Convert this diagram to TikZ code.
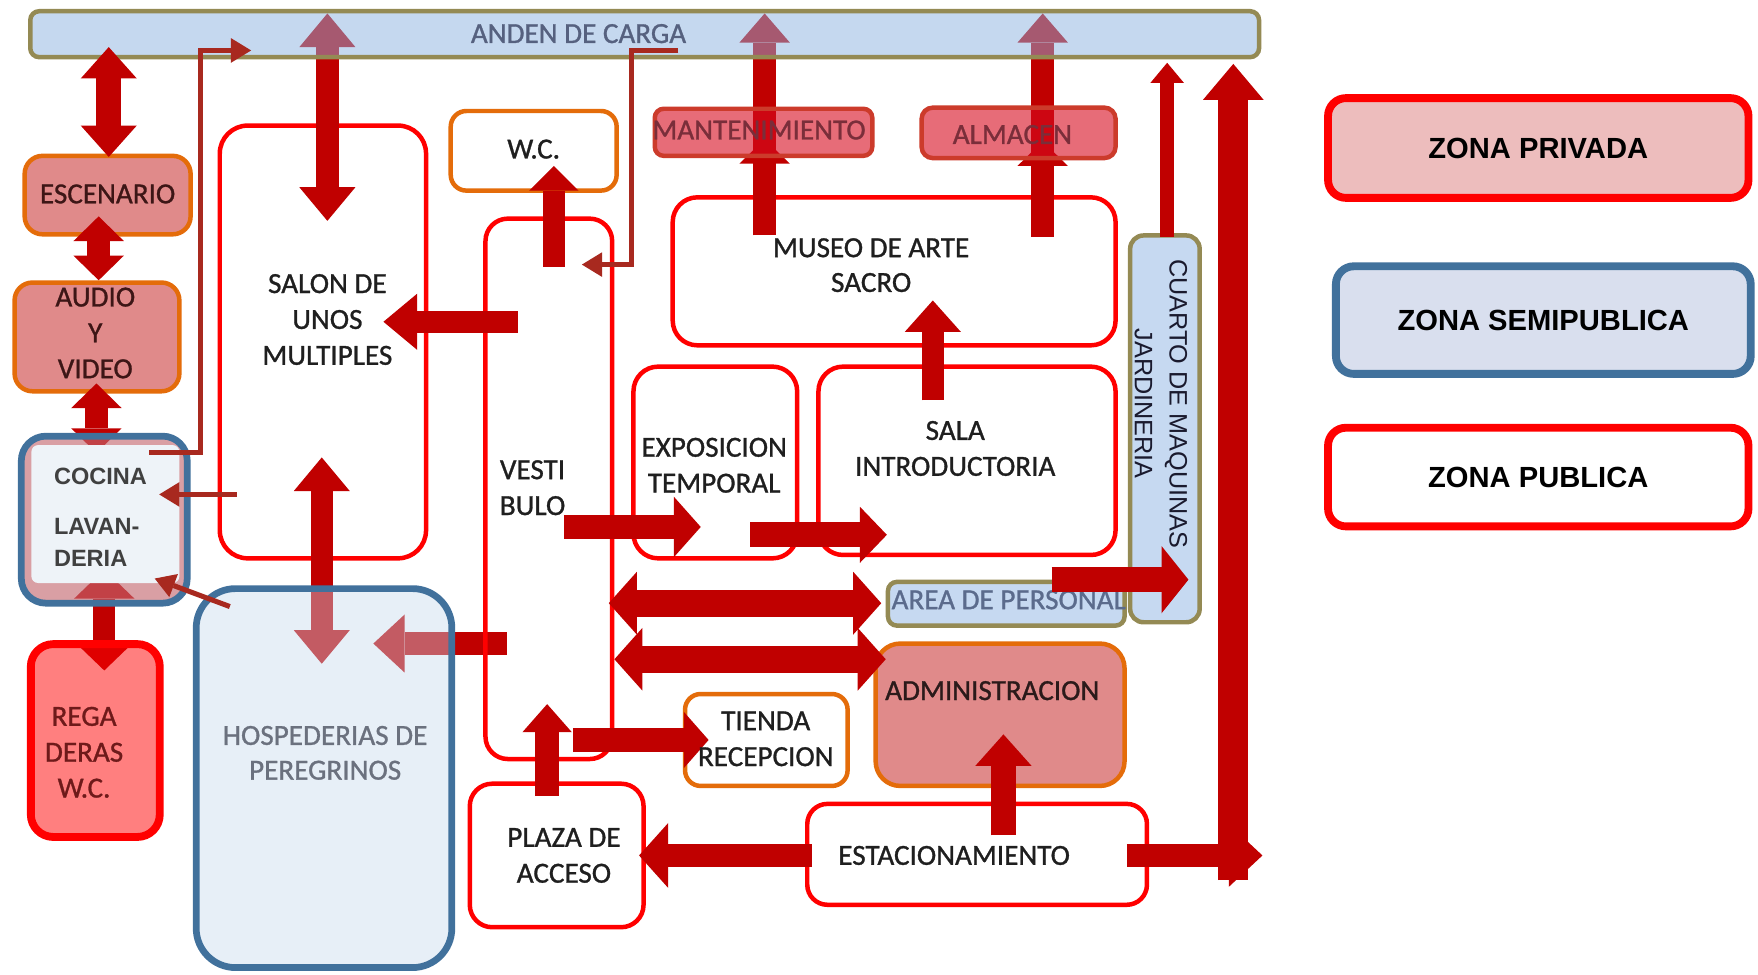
\documentclass[tikz,border=0pt]{standalone}
\usepackage{fontspec}
\setmainfont{Carlito}
\newfontfamily\roomfont{Carlito}[FakeBold=1]
\newfontfamily\arialfont{Liberation Sans}
\usetikzlibrary{arrows.meta}

\definecolor{flowred}{HTML}{C00000}
\definecolor{feedred}{HTML}{A8291F}
\definecolor{zonered}{HTML}{FF0000}
\definecolor{zoneorange}{HTML}{E46C0A}
\definecolor{zoneblue}{HTML}{41719C}
\definecolor{zoneolive}{HTML}{948A54}
\definecolor{servblue}{HTML}{C6D9F1}
\definecolor{andenblue}{HTML}{8DB3E1}
\definecolor{salmon}{HTML}{E08A8A}
\definecolor{mantfill}{HTML}{D70A1E}
\definecolor{mantline}{HTML}{CC3B2B}
\definecolor{cocinapink}{HTML}{C46870}
\definecolor{cocinalight}{HTML}{EEF3F8}
\definecolor{hospblue}{HTML}{C8D9EC}
\definecolor{privfill}{HTML}{EDBDBD}
\definecolor{semifill}{HTML}{D9DFEE}
\definecolor{txtdark}{HTML}{1F1F1F}
\definecolor{andentxt}{HTML}{56617F}
\definecolor{esctxt}{HTML}{3D1616}
\definecolor{regtxt}{HTML}{6E1A1A}
\definecolor{cocinatxt}{HTML}{404040}
\definecolor{hosptxt}{HTML}{6B717E}
\definecolor{manttxt}{HTML}{7A2E3A}
\definecolor{areatxt}{HTML}{5B6B8C}
\definecolor{cuartotxt}{HTML}{1A1A2E}
\definecolor{admintxt}{HTML}{2B1A1A}

\tikzset{
  pub/.style={draw=zonered, line width=4pt, rounded corners=22pt, inner sep=0pt},
  wet/.style={draw=zoneorange, line width=4pt, fill=white, rounded corners=14pt, inner sep=0pt},
  serv/.style={draw=zoneolive, line width=4pt, fill=servblue, rounded corners=8pt, inner sep=0pt},
  priv/.style={draw=mantline, line width=4pt, fill=mantfill, fill opacity=0.6, rounded corners=8pt, inner sep=0pt},
  semi/.style={draw=zoneblue, line width=6pt, rounded corners=22pt, inner sep=0pt},
  keybox/.style={line width=7pt, rounded corners=16pt, minimum width=375pt, minimum height=89pt,
    inner sep=0pt, text=black, font=\arialfont\bfseries\fontsize{26}{30}\selectfont},
  lbl/.style={font=\roomfont\fontsize{26}{32}\selectfont, align=center, inner sep=0pt, text=txtdark},
  flow/.style n args={3}{draw=flowred, line width=#1,
    -{Triangle[width=#2,length=#3,line width=0pt]}},
  flowboth/.style n args={3}{draw=flowred, line width=#1,
    {Triangle[width=#2,length=#3,line width=0pt]}-{Triangle[width=#2,length=#3,line width=0pt]}},
  feed/.style={draw=feedred, line width=4.5pt, line join=miter,
    -{Triangle[width=22pt,length=18pt,line width=0pt]}}
}

\begin{document}
\begin{tikzpicture}[x=1pt,y=-1pt]
  \fill[white] (0,0) rectangle (1568,869);
  \useasboundingbox (0,0) rectangle (1568,869);

  % rooms under the arrows
  \node[wet, fill=salmon, rounded corners=16pt, minimum width=148pt, minimum height=70pt] (escenario) at (96,174) {};
  \node[wet, fill=salmon, rounded corners=16pt, minimum width=147pt, minimum height=97pt] (audio) at (86.5,300.5) {};
  \node[wet, minimum width=148pt, minimum height=71pt] (wc) at (476,134.5) {};
  \node[wet, minimum width=145pt, minimum height=82pt] (tienda) at (683.5,660) {};
  \node[wet, fill=salmon, rounded corners=22pt, minimum width=222pt, minimum height=127pt] (admin) at (892,637.5) {};
  \node[pub, rounded corners=25pt, minimum width=184pt, minimum height=386pt] (salon) at (288,305) {};
  \node[pub, minimum width=395pt, minimum height=132pt] (museo) at (797.5,242) {};
  \node[pub, minimum width=146pt, minimum height=171pt] (expo) at (638,412.5) {};
  \node[pub, minimum width=265pt, minimum height=168pt] (sala) at (862.5,411) {};
  \node[pub, rounded corners=20pt, minimum width=155pt, minimum height=128pt] (plaza) at (496.5,763) {};
  \node[pub, rounded corners=18pt, minimum width=303pt, minimum height=90pt] (estac) at (871.5,762) {};
  \node[serv, minimum width=211pt, minimum height=39pt] (area) at (897.5,538.5) {};
  \node[lbl, text=areatxt, anchor=west] (t-area) at (795,535) {AREA DE PERSONAL};
  \node[serv, rounded corners=12pt, minimum width=62pt, minimum height=345pt] (cuarto) at (1039,382.5) {};

  % arrows seen through the tinted rooms
  \draw[flowboth={20pt}{50pt}{30pt}] (292,12) -- (292,197);
  \draw[flow={20pt}{45pt}{22pt}] (682,210) -- (682,124);
  \draw[flow={20pt}{45pt}{26pt}] (682,150) -- (682,12);
  \draw[flow={20pt}{45pt}{22pt}] (930,211) -- (930,126);
  \draw[flow={20pt}{45pt}{26pt}] (930,150) -- (930,12);
  \draw[flowboth={20pt}{45pt}{22pt}] (86,342) -- (86,404);
  \draw[flowboth={20pt}{54pt}{26pt}] (93,508) -- (93,598);
  \draw[flowboth={20pt}{50pt}{30pt}] (287,408) -- (287,592);
  \draw[flow={20pt}{52pt}{28pt}] (452,574) -- (333,574);

  % tinted rooms
  \node[serv, fill=andenblue, fill opacity=0.5, minimum width=1096pt, minimum height=41pt] (anden) at (575,30.5) {};
  \node[priv, minimum width=194pt, minimum height=42pt] (mant) at (681,118) {};
  \node[priv, rounded corners=10pt, minimum width=173pt, minimum height=45pt] (almacen) at (908.5,118.5) {};
  \node[semi, fill=cocinapink, fill opacity=0.63, minimum width=148pt, minimum height=149pt] (cocina) at (93,463.5) {};
  \fill[cocinalight, rounded corners=6pt] (28,397) rectangle (160,520);
  \node[draw=zonered, line width=7pt, fill=zonered, fill opacity=0.5, rounded corners=20pt, inner sep=0pt,
    minimum width=115pt, minimum height=172pt] (regad) at (85,660.5) {};
  \node[semi, fill=hospblue, fill opacity=0.42, rounded corners=35pt, minimum width=228pt, minimum height=338pt] (hosp) at (289,694) {};
  \node[pub, rounded corners=20pt, minimum width=113pt, minimum height=482pt] (vesti) at (489.5,436) {};

  % arrows on top
  \draw[flowboth={22pt}{50pt}{28pt}] (97,42) -- (97,140);
  \draw[flowboth={20pt}{45pt}{22pt}] (88,193) -- (88,250);
  \draw[flow={20pt}{50pt}{30pt}] (462,287) -- (342,287);
  \draw[flow={20pt}{44pt}{22pt}] (494,238) -- (494,148);
  \draw[flow={22pt}{54pt}{24pt}] (503,470) -- (625,470);
  \draw[flow={22pt}{50pt}{24pt}] (669,477) -- (791,477);
  \draw[flow={20pt}{50pt}{28pt}] (832,357) -- (832,268);
  \draw[flow={12pt}{30pt}{18pt}] (1041,211) -- (1041,56);
  \draw[flow={21pt}{56pt}{30pt}] (1005,763) -- (1126,763);
  \draw[flow={27pt}{54pt}{32pt}] (1100,785) -- (1100,57);
  \draw[flow={21pt}{58pt}{26pt}] (724,763) -- (570,763);
  \draw[flow={22pt}{50pt}{28pt}] (895,745) -- (895,655);
  \draw[flow={22pt}{44pt}{25pt}] (488,710) -- (488,628);
  \draw[flow={22pt}{50pt}{22pt}] (511,660) -- (632,660);
  \draw[flowboth={24pt}{56pt}{25pt}] (543,538) -- (786,538);
  \draw[flowboth={24pt}{56pt}{25pt}] (548,588) -- (790,588);
  \draw[flow={22pt}{60pt}{24pt}] (938,517) -- (1060,517);

  % thin service lines
  \draw[feed] (133,404) -- (179,404) -- (179,45) -- (224,45);
  \draw[feed] (605,45) -- (563,45) -- (563,236) -- (519,236);
  \draw[feed] (211,441) -- (142,441);
  \draw[feed] (205,541) -- (138,516);

  % room names
  \node[lbl, text=andentxt] (t-anden) at (516,30) {ANDEN DE CARGA};
  \node[lbl, text=esctxt] (t-esc) at (96,173) {ESCENARIO};
  \node[lbl, text=esctxt] (t-audio) at (85,297) {AUDIO\\Y\\VIDEO};
  \node[lbl, text=cocinatxt, align=left, anchor=west, font=\arialfont\bfseries\fontsize{21}{28}\selectfont]
    (t-cocina) at (48,461) {COCINA\\[17pt]LAVAN-\\DERIA};
  \node[lbl, text=regtxt] (t-regad) at (75,671) {REGA\\DERAS\\W.C.};
  \node[lbl] (t-salon) at (292,285) {SALON DE\\UNOS\\MULTIPLES};
  \node[lbl, text=hosptxt, font=\roomfont\fontsize{26}{31}\selectfont] (t-hosp) at (290,671.5) {HOSPEDERIAS DE\\PEREGRINOS};
  \node[lbl] (t-wc) at (476,133) {W.C.};
  \node[lbl] (t-vesti) at (475,435) {VESTI\\BULO};
  \node[lbl, text=manttxt] (t-mant) at (677,116) {MANTENIMIENTO};
  \node[lbl, text=manttxt] (t-almacen) at (903,120) {ALMACEN};
  \node[lbl, font=\roomfont\fontsize{26}{31}\selectfont] (t-museo) at (777,236.5) {MUSEO DE ARTE\\SACRO};
  \node[lbl] (t-expo) at (637,415) {EXPOSICION\\TEMPORAL};
  \node[lbl] (t-sala) at (852,400) {SALA\\INTRODUCTORIA};
  \node[lbl, text=cuartotxt, rotate=-90, font=\arialfont\fontsize{22.5}{31}\selectfont]
    (t-cuarto) at (1035.5,360) {CUARTO DE MAQUINAS\\JARDINERIA};
  \node[lbl, text=admintxt] (t-admin) at (885,616) {ADMINISTRACION};
  \node[lbl] (t-tienda) at (683,659) {TIENDA\\RECEPCION};
  \node[lbl] (t-plaza) at (503,763) {PLAZA DE\\ACCESO};
  \node[lbl] (t-estac) at (851,763) {ESTACIONAMIENTO};

  % legend
  \node[keybox, draw=zonered, fill=privfill] (privada) at (1372,132) {ZONA PRIVADA};
  \node[keybox, draw=zoneblue, fill=semifill, minimum width=370pt, minimum height=96pt] (semipublica) at (1376.5,285.5) {ZONA SEMIPUBLICA};
  \node[keybox, draw=zonered, fill=white, minimum height=88pt] (publica) at (1372,425.5) {ZONA PUBLICA};
\end{tikzpicture}
\end{document}
